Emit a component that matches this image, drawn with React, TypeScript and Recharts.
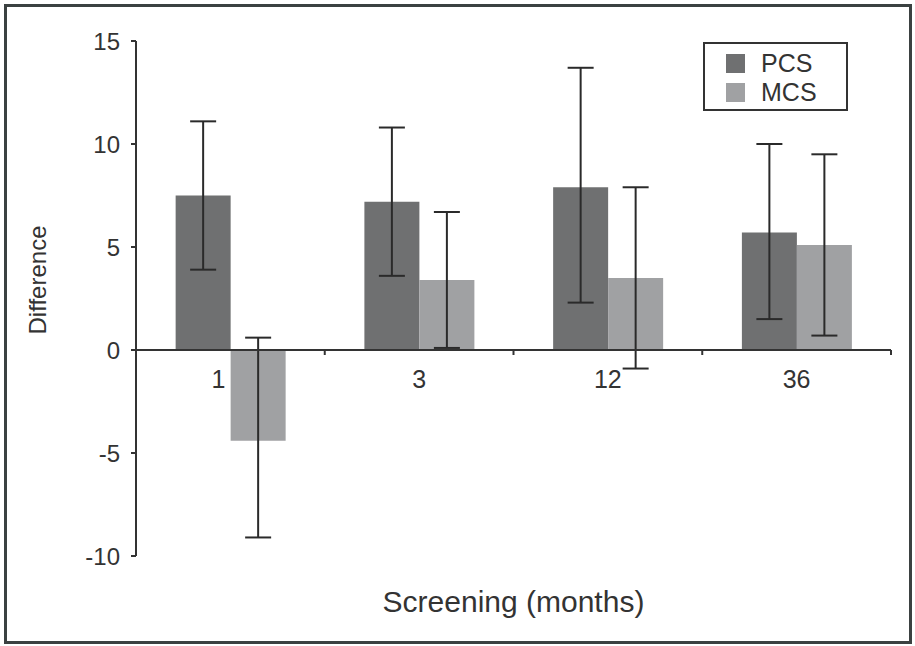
import { BarChart, Bar, XAxis, YAxis, ErrorBar, ReferenceLine, Legend, Label } from "recharts"

const categories = ["1", "3", "12", "36"]
const seriesNames = ["PCS", "MCS"]
const pcsMean = [7.5, 7.2, 7.9, 5.7]
const pcsLow = [3.9, 3.6, 2.3, 1.5]
const pcsHigh = [11.1, 10.8, 13.7, 10.0]
const mcsMean = [-4.4, 3.4, 3.5, 5.1]
const mcsLow = [-9.1, 0.1, -0.9, 0.7]
const mcsHigh = [0.6, 6.7, 7.9, 9.5]
const yTicks = [-10, -5, 0, 5, 10, 15]

const W = 915
const H = 646
const MARGIN = { top: 41, right: 24, bottom: 60, left: 56 }
const Y_WIDTH = 80
const X_HEIGHT = 30
const Y_MIN = -10
const Y_MAX = 15

const INK = "#333333"
const PCS_COLOR = "#6f7071"
const MCS_COLOR = "#a0a1a3"
const SERIES_COLORS = [PCS_COLOR, MCS_COLOR]
const FONT = "'Liberation Sans', Arial, Helvetica, sans-serif"

const plotLeft = MARGIN.left + Y_WIDTH
const plotWidth = W - plotLeft - MARGIN.right
const plotHeight = H - MARGIN.top - MARGIN.bottom - X_HEIGHT
const zeroY = MARGIN.top + (plotHeight * (Y_MAX - 0)) / (Y_MAX - Y_MIN)
const band = plotWidth / categories.length

const data = categories.map((c, i) => ({
    month: c,
    PCS: pcsMean[i],
    MCS: mcsMean[i],
    pcsErr: [pcsMean[i] - pcsLow[i], pcsHigh[i] - pcsMean[i]],
    mcsErr: [mcsMean[i] - mcsLow[i], mcsHigh[i] - mcsMean[i]],
}))

// x labels sit under the zero line, with small ticks on the category borders
const MonthTick = (props: any) => {
    const { x, payload, index } = props
    // nudge the label clear of a bar hanging below zero
    const dx = mcsMean[index] < 0 ? -12 : 0
    return (
        <g>
            <text x={x + dx} y={zeroY + 38} textAnchor="middle" fontSize={25} fill={INK} fontFamily={FONT}>
                {payload.value}
            </text>
            {index > 0 && (
                <line x1={x - band / 2} x2={x - band / 2} y1={zeroY} y2={zeroY + 5} stroke={INK} strokeWidth={2} />
            )}
            {index === categories.length - 1 && (
                <line x1={x + band / 2} x2={x + band / 2} y1={zeroY} y2={zeroY + 5} stroke={INK} strokeWidth={2} />
            )}
        </g>
    )
}

const LegendBox = () => (
    <div
        style={{
            border: `2px solid ${INK}`,
            width: 141,
            height: 65,
            boxSizing: "content-box",
            fontFamily: FONT,
            fontSize: 25,
            color: INK,
        }}
    >
        {seriesNames.map((name, i) => (
            <div key={name} style={{ display: "flex", alignItems: "center", height: 29, marginTop: i === 0 ? 5 : 0 }}>
                <span style={{ display: "inline-block", width: 19, height: 19, background: SERIES_COLORS[i], marginLeft: 21, marginRight: 16 }} />
                <span style={{ lineHeight: "25px" }}>{name}</span>
            </div>
        ))}
    </div>
)

export default function App() {
    return (
        <div style={{ position: "absolute", left: 0, top: 0, width: W, height: H, background: "#fff" }}>
            <BarChart
                width={W}
                height={H}
                data={data}
                margin={MARGIN}
                barCategoryGap="21%"
                barGap={0}
            >
                <XAxis
                    dataKey="month"
                    height={X_HEIGHT}
                    axisLine={false}
                    tickLine={false}
                    tick={<MonthTick />}
                    interval={0}
                >
                    <Label
                        content={() => (
                            <text
                                x={plotLeft + plotWidth / 2}
                                y={612}
                                textAnchor="middle"
                                fontSize={30}
                                fill={INK}
                                fontFamily={FONT}
                            >
                                Screening (months)
                            </text>
                        )}
                    />
                </XAxis>
                <YAxis
                    width={Y_WIDTH}
                    domain={[Y_MIN, Y_MAX]}
                    ticks={yTicks}
                    interval={0}
                    allowDataOverflow
                    tickSize={5}
                    tickMargin={11}
                    axisLine={{ stroke: INK, strokeWidth: 2 }}
                    tickLine={{ stroke: INK, strokeWidth: 2 }}
                    tick={{ fontSize: 24, fill: INK, fontFamily: FONT }}
                >
                    <Label
                        content={() => (
                            <text
                                x={46}
                                y={280}
                                textAnchor="middle"
                                fontSize={24}
                                fill={INK}
                                fontFamily={FONT}
                                transform="rotate(-90 46 280)"
                            >
                                Difference
                            </text>
                        )}
                    />
                </YAxis>
                <Legend
                    layout="vertical"
                    align="center"
                    verticalAlign="middle"
                    content={<LegendBox />}
                    wrapperStyle={{ position: "absolute", left: 703, top: 42, width: 145, height: 69 }}
                />
                <Bar dataKey="PCS" fill={PCS_COLOR} isAnimationActive={false}>
                    <ErrorBar dataKey="pcsErr" width={13} stroke="#2a2a2a" strokeWidth={2} direction="y" />
                </Bar>
                <Bar dataKey="MCS" fill={MCS_COLOR} isAnimationActive={false}>
                    <ErrorBar dataKey="mcsErr" width={13} stroke="#2a2a2a" strokeWidth={2} direction="y" />
                </Bar>
                <ReferenceLine y={0} stroke={INK} strokeWidth={2} />
            </BarChart>
            <div
                style={{
                    position: "absolute",
                    left: 4,
                    top: 4,
                    width: 908,
                    height: 640,
                    boxSizing: "border-box",
                    border: "3px solid #3b4141",
                    pointerEvents: "none",
                }}
            />
        </div>
    )
}
